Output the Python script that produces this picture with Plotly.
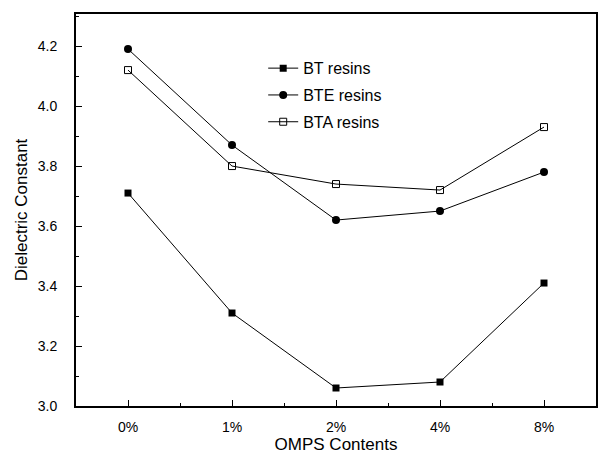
import plotly.graph_objects as go

categories = ["0%", "1%", "2%", "4%", "8%"]
bt = [3.71, 3.31, 3.06, 3.08, 3.41]
bte = [4.19, 3.87, 3.62, 3.65, 3.78]
bta = [4.12, 3.80, 3.74, 3.72, 3.93]

xpos = list(range(len(categories)))

fig = go.Figure()
fig.add_trace(go.Scatter(x=xpos, y=bt, name="BT resins", mode="lines+markers", legendgroup="a",
                         line=dict(color="black", width=1),
                         marker=dict(symbol="square", size=7, color="black")))
fig.add_trace(go.Scatter(x=xpos, y=bte, name="BTE resins", mode="lines+markers", legendgroup="b",
                         line=dict(color="black", width=1),
                         marker=dict(symbol="circle", size=8, color="black")))
fig.add_trace(go.Scatter(x=xpos, y=bta, name="BTA resins", mode="lines+markers", legendgroup="c",
                         line=dict(color="black", width=1),
                         marker=dict(symbol="square-open", size=7, color="black", line=dict(width=1))))

fig.update_layout(
    width=599, height=454,
    margin=dict(l=76, r=1, t=14, b=48),
    plot_bgcolor="white", paper_bgcolor="white",
    font=dict(family="Liberation Sans, Arial, sans-serif", color="black"),
    legend=dict(x=0.36, y=0.905, xanchor="left", yanchor="top",
                bgcolor="rgba(0,0,0,0)", font=dict(size=16),
                tracegroupgap=3, itemsizing="trace"),
    showlegend=True,
)
fig.update_xaxes(
    range=[-0.5, 4.5], tickvals=xpos, ticktext=categories,
    showgrid=False, zeroline=False,
    showline=True, linecolor="black", linewidth=2, mirror=True,
    ticks="inside", ticklen=6, tickcolor="black",
    minor=dict(tickvals=[0.5, 1.5, 2.5, 3.5], ticks="inside", ticklen=3, tickcolor="black"),
    tickfont=dict(size=14), ticklabelstandoff=7,
    title=dict(text="OMPS Contents", font=dict(size=17), standoff=4),
)
fig.update_yaxes(
    range=[3.0, 4.307], tickvals=[3.0, 3.2, 3.4, 3.6, 3.8, 4.0, 4.2],
    ticktext=["3.0", "3.2", "3.4", "3.6", "3.8", "4.0", "4.2"],
    showgrid=False, zeroline=False,
    showline=True, linecolor="black", linewidth=2, mirror=True,
    ticks="inside", ticklen=6, tickcolor="black",
    minor=dict(dtick=0.1, ticks="inside", ticklen=3, tickcolor="black"),
    tickfont=dict(size=14), ticklabelstandoff=14,
    title=dict(text="Dielectric Constant", font=dict(size=17), standoff=6),
)

fig.write_html("out.html")
